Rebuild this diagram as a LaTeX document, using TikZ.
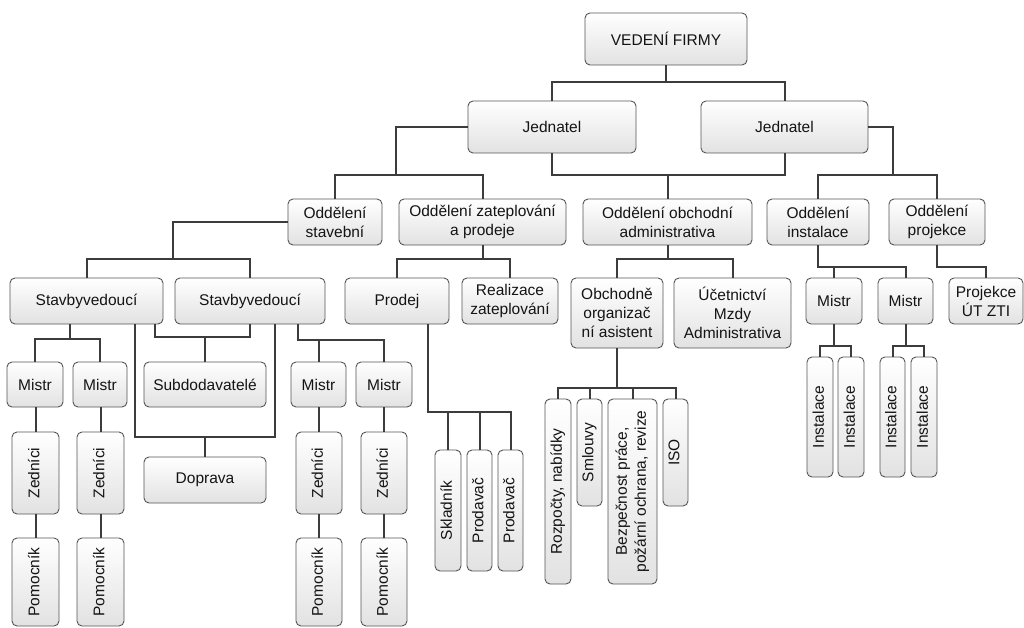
\documentclass[tikz,border=0pt]{standalone}
\usepackage{fontspec}
\setmainfont{Liberation Sans}
\usepackage{graphicx}
\usetikzlibrary{calc}
\definecolor{boxline}{HTML}{555555}
\definecolor{boxbot}{HTML}{E2E2E2}
\definecolor{linec}{HTML}{3C3C3C}
\definecolor{textc}{HTML}{141414}
\newcommand\bx[6]{\node[obox, minimum width={#4pt-#2pt}, minimum height={#5pt-#3pt}] (#1) at ({(#2+#4)/2},{(#3+#5)/2}) {#6};}
\newcommand\bxr[6]{\bx{#1}{#2}{#3}{#4}{#5}{\rotatebox{90}{\begin{tabular}{@{}c@{}}#6\end{tabular}}}}
\begin{document}
\begin{tikzpicture}[x=1pt,y=-1pt,
  obox/.style={draw=boxline, line width=0.9pt, rounded corners=5pt, top color=white, bottom color=boxbot, inner sep=1pt, font=\fontsize{15.5}{19}\selectfont, align=center, text=textc},
  conn/.style={draw=linec, line width=2pt}]
\useasboundingbox (0,0) rectangle (1024,628);
% level 0-1
\bx{vf}{585}{13}{747}{65}{VEDENÍ FIRMY}
\bx{j1}{468}{101}{636}{153}{Jednatel}
\bx{j2}{701}{101}{868}{153}{Jednatel}
% level 2
\bx{os}{288}{199}{382}{245}{Oddělení\\stavební}
\bx{oz}{399}{199}{566}{245}{Oddělení zateplování\\a prodeje}
\bx{oa}{583}{199}{752}{245}{Oddělení obchodní\\administrativa}
\bx{oi}{767}{199}{869}{245}{Oddělení\\instalace}
\bx{op}{889}{199}{985}{245}{Oddělení\\projekce}
% level 3
\bx{sv1}{10}{278}{163}{324}{Stavbyvedoucí}
\bx{sv2}{175}{278}{325}{324}{Stavbyvedoucí}
\bx{pr}{345}{278}{449}{324}{Prodej}
\bx{rz}{462}{278}{558}{324}{Realizace\\zateplování}
\bx{ob}{571}{278}{663}{348}{Obchodně\\organizač\\ní asistent}
\bx{uc}{674}{278}{791}{348}{Účetnictví\\Mzdy\\Administrativa}
\bx{mi1}{806}{278}{862}{324}{Mistr}
\bx{mi2}{878}{278}{933}{324}{Mistr}
\bx{pj}{949}{278}{1023}{324}{Projekce\\ÚT ZTI}
% level 4 left
\bx{m1}{7}{362}{63}{407}{Mistr}
\bx{m2}{73}{362}{127}{407}{Mistr}
\bx{sub}{144}{362}{266}{407}{Subdodavatelé}
\bx{m3}{291}{362}{346}{407}{Mistr}
\bx{m4}{356}{362}{412}{407}{Mistr}
\bx{dop}{144}{457}{266}{503}{Doprava}
\bxr{z1}{12}{432}{59}{514}{Zedníci}
\bxr{z2}{77}{432}{124}{514}{Zedníci}
\bxr{z3}{296}{432}{342}{514}{Zedníci}
\bxr{z4}{361}{432}{407}{514}{Zedníci}
\bxr{p1}{12}{538}{59}{626}{Pomocník}
\bxr{p2}{77}{538}{124}{626}{Pomocník}
\bxr{p3}{296}{538}{342}{626}{Pomocník}
\bxr{p4}{361}{538}{407}{626}{Pomocník}
% prodej
\bxr{sk}{435}{450}{461}{571}{Skladník}
\bxr{pv1}{467}{450}{492}{571}{Prodavač}
\bxr{pv2}{498}{450}{523}{571}{Prodavač}
% obchodne
\bxr{rn}{545}{399}{571}{584}{Rozpočty, nabídky}
\bxr{sm}{577}{399}{602}{506}{Smlouvy}
\bxr{bz}{608}{399}{657}{584}{Bezpečnost práce,\\požární ochrana, revize}
\bxr{iso}{663}{399}{688}{506}{ISO}
% instalace
\bxr{in1}{807}{357}{833}{477}{Instalace}
\bxr{in2}{838}{357}{864}{477}{Instalace}
\bxr{in3}{880}{357}{905}{477}{Instalace}
\bxr{in4}{911}{357}{937}{477}{Instalace}
% connectors
\draw[conn] (vf.south) -- ++(0,17) coordinate (c0) -| (j1.north);
\draw[conn] (c0) -| (j2.north);
\draw[conn] (j1.west) -- ++(-72,0) -- ++(0,48) coordinate (c1) -| (os.north);
\draw[conn] (c1) -| (oz.north);
\draw[conn] (j1.south) -- ++(0,22) -| (j2.south);
\draw[conn] (oa.north) -- ++(0,-24);
\draw[conn] (j2.east) -- ++(25,0) -- ++(0,48) coordinate (c2) -| (oi.north);
\draw[conn] (c2) -| (op.north);
\draw[conn] (os.west) -- ++(-115,0) -- ++(0,37) coordinate (c3) -| (sv1.north);
\draw[conn] (c3) -| (sv2.north);
\draw[conn] (oz.south) -- ++(0,14) coordinate (c4) -| (pr.north);
\draw[conn] (c4) -| (rz.north);
\draw[conn] (oa.south) -- ++(0,14) coordinate (c5) -| (ob.north);
\draw[conn] (c5) -| (uc.north);
\draw[conn] (oi.south) -- ++(0,22) coordinate (c6) -| (mi2.north);
\draw[conn] (c6) -| (mi1.north);
\draw[conn] (op.south) -- ++(0,22) -| (pj.north);
\draw[conn] ([xshift=-16.5pt]sv1.south) -- ++(0,15) coordinate (c7) -| (m1.north);
\draw[conn] (c7) -| (m2.north);
\draw[conn] ([xshift=48.5pt]sv1.south) -- ++(0,113) -| ([xshift=25pt]sv2.south);
\draw[conn] (dop.north) -- ++(0,-20);
\draw[conn] ([xshift=68.5pt]sv1.south) -- ++(0,13) -| (sv2.south);
\draw[conn] (sub.north) -- ++(0,-25);
\draw[conn] ([xshift=48pt]sv2.south) -- ++(0,16) coordinate (c8) -| (m3.north);
\draw[conn] (c8) -| (m4.north);
\draw[conn] (z1.north) -- (z1.north |- m1.south);
\draw[conn] (z2.north) -- (z2.north |- m2.south);
\draw[conn] (z3.north) -- (z3.north |- m3.south);
\draw[conn] (z4.north) -- (z4.north |- m4.south);
\draw[conn] (z1.south) -- (p1.north);
\draw[conn] (z2.south) -- (p2.north);
\draw[conn] (z3.south) -- (p3.north);
\draw[conn] (z4.south) -- (p4.north);
\draw[conn] ([xshift=31pt]pr.south) -- ++(0,88) coordinate (c9) -| (pv2.north);
\draw[conn] (c9) -| (sk.north);
\draw[conn] (c9) -| (pv1.north);
\draw[conn] (ob.south) -- ++(0,40) coordinate (c10) -| (rn.north);
\draw[conn] (c10) -| (sm.north);
\draw[conn] (c10) -| (bz.north);
\draw[conn] (c10) -| (iso.north);
\draw[conn] (mi1.south) -- ++(0,22) coordinate (c11) -| (in1.north);
\draw[conn] (c11) -| (in2.north);
\draw[conn] (mi2.south) -- ++(0,22) coordinate (c12) -| (in3.north);
\draw[conn] (c12) -| (in4.north);
\end{tikzpicture}
\end{document}
